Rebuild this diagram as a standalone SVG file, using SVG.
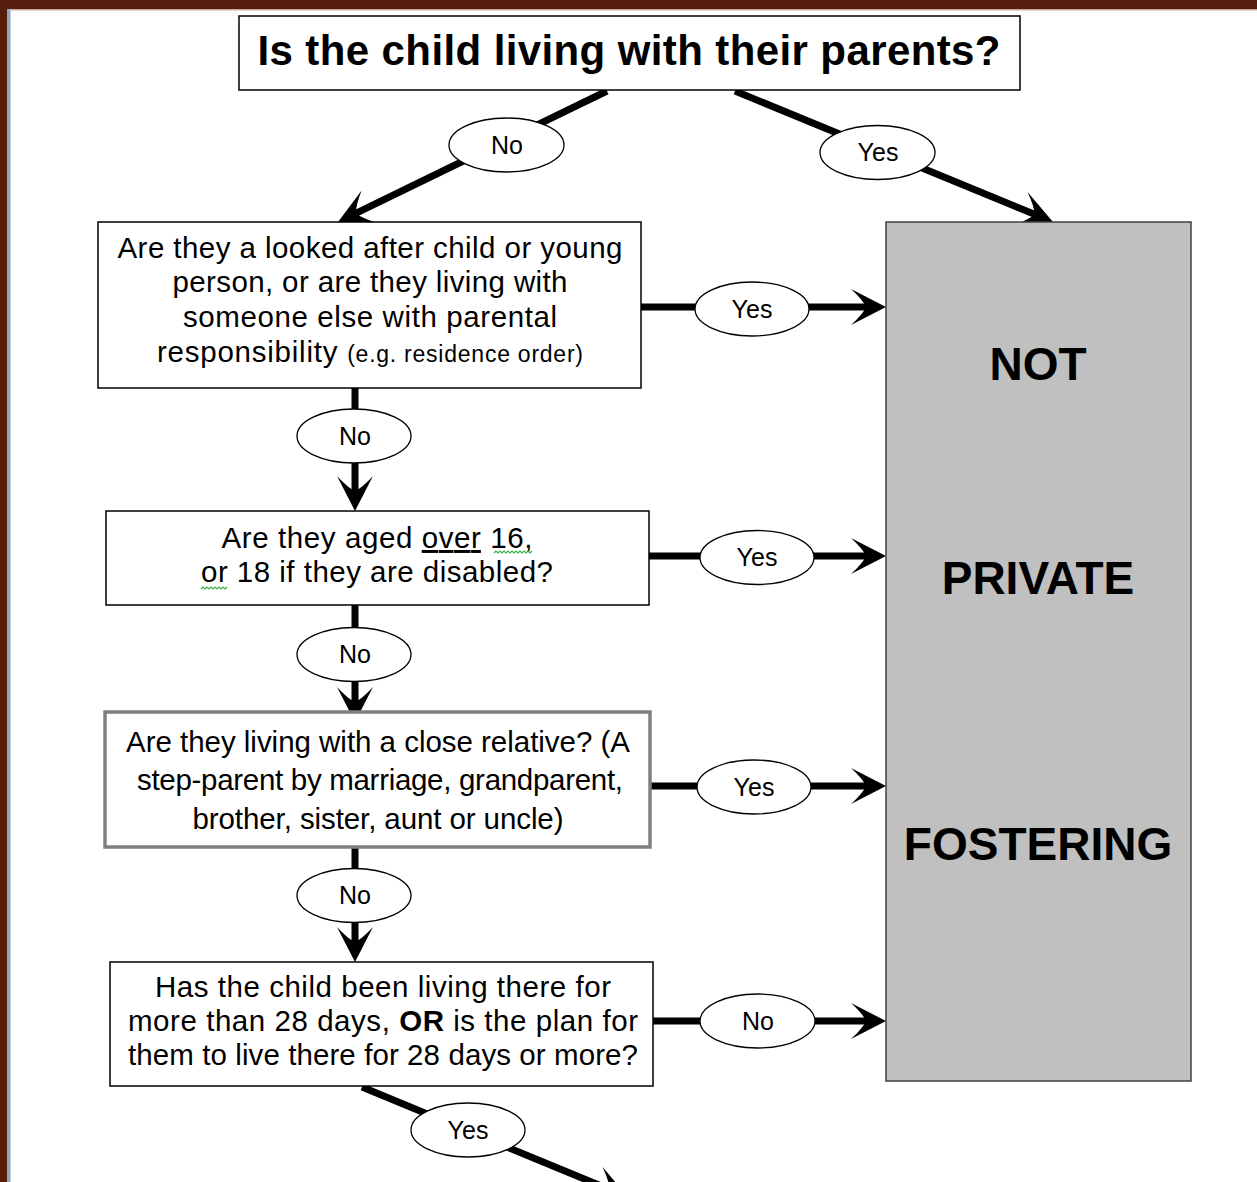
<svg xmlns="http://www.w3.org/2000/svg" width="1257" height="1182" viewBox="0 0 1257 1182">
<style>
.box{fill:#fff;stroke:#000;stroke-width:1.5}
.box3{fill:#fff;stroke:#808080;stroke-width:3.5}
.term{fill:#c0c0c0;stroke:#404040;stroke-width:1.5}
.conn{stroke:#000;stroke-width:7;fill:none;marker-end:url(#arr)}
.lbl ellipse{fill:#fff;stroke:#000;stroke-width:1.3}
.t{font-family:"Liberation Sans",Arial,sans-serif;font-size:29.5px;fill:#000;text-anchor:middle}
.tl{font-family:"Liberation Sans",Arial,sans-serif;font-size:25px;fill:#000;text-anchor:middle}
.title{font-family:"Liberation Sans",Arial,sans-serif;font-size:42px;font-weight:bold;fill:#000;text-anchor:middle}
.big{font-family:"Liberation Sans",Arial,sans-serif;font-size:46px;font-weight:bold;fill:#000;text-anchor:middle}
.sq{fill:none;stroke:#3cb043;stroke-width:1.2}
</style>
<defs>
<marker id="arr" markerUnits="userSpaceOnUse" markerWidth="44" markerHeight="40" refX="22" refY="20" orient="auto" overflow="visible">
<path d="M40,20 L5,2 Q17,13 20,20 Q17,27 5,38 Z" fill="#000"/>
</marker>
</defs>
<rect x="0" y="0" width="1257" height="1182" fill="#fff"/>
<g id="frame">
<rect x="0" y="0" width="1257" height="9" fill="#561d0d"/>
<rect x="0" y="9" width="1257" height="1.5" fill="#c9aaa0"/>
<rect x="0" y="0" width="7" height="1182" fill="#561d0d"/>
<rect x="7" y="9" width="3" height="1173" fill="#95a5b8"/>
<rect x="10" y="9" width="1" height="1173" fill="#ccd5df"/>
</g>
<g id="connectors">
<line class="conn" x1="607" y1="91" x2="354.2" y2="214.1"/>
<line class="conn" x1="735" y1="91" x2="1036.4" y2="215.1"/>
<line class="conn" x1="641" y1="307" x2="868" y2="307"/>
<line class="conn" x1="355" y1="388" x2="355" y2="493"/>
<line class="conn" x1="649" y1="556" x2="868" y2="556"/>
<line class="conn" x1="355" y1="605" x2="355" y2="704"/>
<line class="conn" x1="651" y1="786" x2="868" y2="786"/>
<line class="conn" x1="355" y1="848" x2="355" y2="944"/>
<line class="conn" x1="653" y1="1021" x2="868" y2="1021"/>
<line class="conn" x1="362" y1="1087" x2="611.4" y2="1190.2"/>
</g>
<g id="labels" class="lbl">
<ellipse cx="506.5" cy="145" rx="57.5" ry="27"/><text class="tl" x="507" y="154">No</text>
<ellipse cx="877.5" cy="152.5" rx="57.5" ry="27"/><text class="tl" x="878" y="161">Yes</text>
<ellipse cx="752" cy="309" rx="57" ry="27"/><text class="tl" x="752" y="318">Yes</text>
<ellipse cx="354" cy="436" rx="57" ry="27"/><text class="tl" x="355" y="445">No</text>
<ellipse cx="757" cy="557.5" rx="57" ry="27"/><text class="tl" x="757" y="566">Yes</text>
<ellipse cx="354" cy="654.5" rx="57" ry="27"/><text class="tl" x="355" y="663">No</text>
<ellipse cx="754" cy="787" rx="57" ry="27"/><text class="tl" x="754" y="796">Yes</text>
<ellipse cx="354" cy="895.5" rx="57" ry="27"/><text class="tl" x="355" y="904">No</text>
<ellipse cx="757.5" cy="1021" rx="57.5" ry="27"/><text class="tl" x="758" y="1030">No</text>
<ellipse cx="468" cy="1130" rx="57" ry="27"/><text class="tl" x="468" y="1139">Yes</text>
</g>
<g id="n0">
<rect class="box" x="239" y="16" width="781" height="74"/>
<text class="title" x="629" y="65" textLength="743">Is the child living with their parents?</text>
</g>
<g id="n1">
<rect class="box" x="98" y="222" width="543" height="166"/>
<text class="t" x="370" y="258" textLength="505">Are they a looked after child or young</text>
<text class="t" x="370" y="292" textLength="395">person, or are they living with</text>
<text class="t" x="370" y="327" textLength="374">someone else with parental</text>
<text class="t" x="370" y="362" textLength="426">responsibility <tspan font-size="23">(e.g. residence order)</tspan></text>
</g>
<g id="n2">
<rect class="box" x="106" y="511" width="543" height="94"/>
<text class="t" x="377" y="548" textLength="311">Are they aged <tspan text-decoration="underline">over</tspan> 16,</text>
<text class="t" x="377" y="582" textLength="352">or 18 if they are disabled?</text>
<path class="sq" d="M494,553 l2,-2 l2,2 l2,-2 l2,2 l2,-2 l2,2 l2,-2 l2,2 l2,-2 l2,2 l2,-2 l2,2 l2,-2 l2,2 l2,-2 l2,2 l2,-2 l2,2 l2,-2"/>
<path class="sq" d="M201,589 l2,-2 l2,2 l2,-2 l2,2 l2,-2 l2,2 l2,-2 l2,2 l2,-2 l2,2 l2,-2 l2,2 l2,-2"/>
</g>
<g id="n3">
<rect class="box3" x="105" y="712" width="545" height="135"/>
<text class="t" x="378" y="752" textLength="504">Are they living with a close relative? (A</text>
<text class="t" x="380" y="790" textLength="486">step-parent by marriage, grandparent,</text>
<text class="t" x="378" y="829" textLength="371">brother, sister, aunt or uncle)</text>
</g>
<g id="n4">
<rect class="box" x="110" y="962" width="543" height="124"/>
<text class="t" x="383" y="997" textLength="456">Has the child been living there for</text>
<text class="t" x="383" y="1031" textLength="510">more than 28 days, <tspan font-weight="bold">OR</tspan> is the plan for</text>
<text class="t" x="383" y="1065" textLength="510">them to live there for 28 days or more?</text>
</g>
<g id="n5">
<rect class="term" x="886" y="222" width="305" height="859"/>
<text class="big" x="1038" y="380">NOT</text>
<text class="big" x="1038" y="594">PRIVATE</text>
<text class="big" x="1038" y="860">FOSTERING</text>
</g>
</svg>
